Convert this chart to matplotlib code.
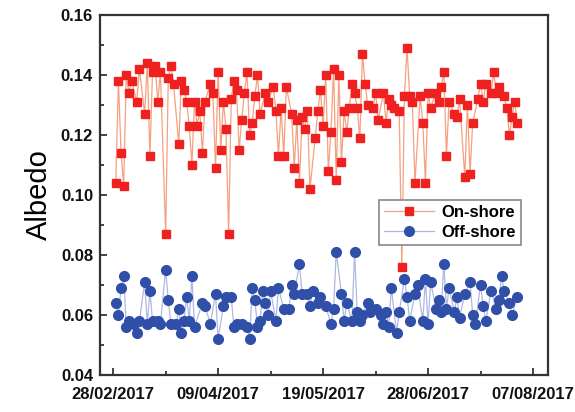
import matplotlib
matplotlib.use("Agg")
import matplotlib.pyplot as plt
import pandas as pd
import numpy as np

plt.rcParams['font.family'] = ['Liberation Sans', 'DejaVu Sans']

start_date = "2017-02-28"

# On-shore: days since 28/02/2017 and albedo
on_days = [1, 2, 3, 4, 5, 6, 7, 9, 10, 12, 13, 14, 15, 16, 17, 18, 20, 21, 22, 23,
           25, 26, 27, 28, 29, 30, 31, 32, 33, 34, 35, 37, 38, 39, 40, 41, 42, 43, 44, 45,
           46, 47, 48, 49, 50, 51, 52, 53, 54, 55, 56, 58, 59, 61, 62, 63, 64, 65, 66, 68,
           69, 70, 71, 72, 73, 74, 75, 77, 78, 79, 80, 81, 82, 83, 84, 85, 86, 87, 88, 89,
           90, 91, 92, 93, 94, 95, 96, 97, 99, 100, 101, 103, 104, 105, 106, 107, 109, 110, 111, 112,
           113, 114, 115, 117, 118, 119, 120, 121, 123, 124, 125, 126, 127, 128, 130, 131, 132, 134, 135, 136,
           137, 139, 140, 141, 142, 144, 145, 146, 147, 149, 150, 151, 152, 153, 154]
on_vals = [0.104, 0.138, 0.114, 0.103, 0.140, 0.134, 0.138, 0.131, 0.142, 0.127, 0.144, 0.113, 0.141, 0.143, 0.131, 0.141, 0.087, 0.139, 0.143, 0.137,
           0.117, 0.138, 0.135, 0.131, 0.123, 0.110, 0.131, 0.123, 0.128, 0.114, 0.131, 0.137, 0.134, 0.109, 0.141, 0.115, 0.131, 0.122, 0.087, 0.132,
           0.138, 0.135, 0.115, 0.125, 0.134, 0.141, 0.120, 0.124, 0.133, 0.140, 0.127, 0.134, 0.131, 0.136, 0.128, 0.113, 0.129, 0.113, 0.136, 0.127,
           0.109, 0.125, 0.104, 0.126, 0.122, 0.128, 0.102, 0.119, 0.128, 0.135, 0.123, 0.140, 0.108, 0.121, 0.142, 0.105, 0.140, 0.111, 0.128, 0.121,
           0.129, 0.137, 0.134, 0.129, 0.119, 0.147, 0.137, 0.130, 0.129, 0.134, 0.125, 0.134, 0.124, 0.132, 0.130, 0.129, 0.128, 0.076, 0.133, 0.149,
           0.133, 0.131, 0.104, 0.133, 0.124, 0.104, 0.134, 0.129, 0.134, 0.131, 0.136, 0.141, 0.113, 0.131, 0.127, 0.126, 0.132, 0.106, 0.130, 0.107,
           0.124, 0.132, 0.137, 0.131, 0.137, 0.134, 0.141, 0.134, 0.136, 0.133, 0.129, 0.120, 0.126, 0.131, 0.124]

# Off-shore: days since 28/02/2017 and albedo
off_days = [1, 2, 3, 4, 5, 6, 8, 9, 10, 12, 13, 14, 15, 17, 18, 20, 21, 22, 24, 25,
            26, 27, 28, 29, 30, 31, 34, 35, 37, 39, 40, 42, 43, 45, 46, 47, 49, 51, 52, 53,
            54, 55, 56, 57, 58, 59, 60, 62, 63, 65, 67, 68, 69, 71, 72, 74, 75, 76, 78, 79,
            81, 83, 84, 85, 87, 88, 89, 91, 92, 93, 94, 95, 97, 98, 100, 102, 103, 104, 105, 106,
            108, 109, 111, 112, 113, 115, 116, 118, 119, 120, 121, 123, 124, 125, 126, 127, 128, 130, 131, 132,
            134, 136, 137, 138, 140, 141, 142, 144, 146, 147, 148, 149, 151, 152, 154]
off_vals = [0.064, 0.060, 0.069, 0.073, 0.056, 0.058, 0.057, 0.054, 0.058, 0.071, 0.057, 0.068, 0.058, 0.058, 0.057, 0.075, 0.065, 0.057, 0.057, 0.062,
            0.054, 0.058, 0.066, 0.058, 0.073, 0.056, 0.064, 0.063, 0.057, 0.067, 0.052, 0.063, 0.066, 0.066, 0.056, 0.057, 0.057, 0.056, 0.052, 0.069,
            0.065, 0.056, 0.058, 0.068, 0.064, 0.060, 0.068, 0.058, 0.069, 0.062, 0.062, 0.070, 0.067, 0.077, 0.067, 0.067, 0.063, 0.068, 0.064, 0.066,
            0.063, 0.057, 0.062, 0.081, 0.067, 0.058, 0.064, 0.058, 0.081, 0.061, 0.058, 0.060, 0.064, 0.061, 0.062, 0.060, 0.057, 0.061, 0.056, 0.069,
            0.054, 0.061, 0.072, 0.066, 0.058, 0.067, 0.070, 0.058, 0.072, 0.057, 0.071, 0.062, 0.065, 0.061, 0.077, 0.062, 0.069, 0.061, 0.066, 0.059,
            0.067, 0.071, 0.060, 0.057, 0.070, 0.063, 0.058, 0.068, 0.062, 0.065, 0.073, 0.068, 0.064, 0.060, 0.066]

tick_dates = ["2017-02-28", "2017-04-09", "2017-05-19", "2017-06-28", "2017-08-07"]
tick_labels = ["28/02/2017", "09/04/2017", "19/05/2017", "28/06/2017", "07/08/2017"]

base = pd.Timestamp(start_date)
on_x = [base + pd.Timedelta(days=d) for d in on_days]
off_x = [base + pd.Timedelta(days=d) for d in off_days]

fig = plt.figure(figsize=(5.75, 4.12), dpi=100)
ax = fig.add_axes([0.174, 0.090, 0.779, 0.874])

ax.plot(on_x, on_vals, color='#f6a07f', lw=0.9, marker='s', ms=6,
        mfc='#ee2020', mec='#ee2020', label='On-shore', zorder=3)
ax.plot(off_x, off_vals, color='#aeb8e6', lw=0.9, marker='o', ms=7,
        mfc='#2f4fa8', mec='#2f4fa8', label='Off-shore', zorder=2)

ax.set_ylim(0.04, 0.16)
ax.set_yticks([0.04, 0.06, 0.08, 0.10, 0.12, 0.14, 0.16])
ax.set_yticks(np.arange(0.05, 0.16, 0.02), minor=True)
ax.yaxis.set_major_formatter(matplotlib.ticker.FormatStrFormatter('%.2f'))

ax.set_xlim(base - pd.Timedelta(days=5), base + pd.Timedelta(days=165.7))
ax.set_xticks([pd.Timestamp(t) for t in tick_dates])
ax.set_xticklabels(tick_labels)
ax.set_xticks([pd.Timestamp(t) + pd.Timedelta(days=20) for t in tick_dates[:-1]], minor=True)

ax.tick_params(which='both', direction='in', width=1.2, colors='#222222')
ax.tick_params(which='major', length=5)
ax.tick_params(which='minor', length=3)
ax.tick_params(axis='x', which='major', pad=9)
ax.tick_params(axis='y', which='major', pad=5)
for lab in ax.get_xticklabels() + ax.get_yticklabels():
    lab.set_fontweight('bold')
    lab.set_fontsize(12)
    lab.set_color('#111111')

for s in ax.spines.values():
    s.set_linewidth(1.6)
    s.set_color('#333333')

ax.set_ylabel('Albedo', fontsize=21, labelpad=6)

leg = ax.legend(loc='upper left', bbox_to_anchor=(0.605, 0.51), fancybox=False,
                edgecolor='#888888', framealpha=1, borderpad=0.3, labelspacing=0.3,
                handlelength=3.0, handletextpad=0.4, prop={'weight': 'bold', 'size': 12})
leg.get_frame().set_linewidth(1.2)

fig.savefig('out.png', dpi=100)
